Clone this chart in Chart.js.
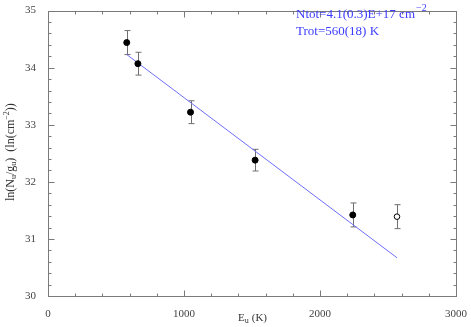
<!DOCTYPE html>
<html>
<head>
<meta charset="utf-8">
<script src="https://cdn.jsdelivr.net/npm/chart.js@4"></script>
<style>
  html, body { margin: 0; padding: 0; background: #fff; }
  #wrap { width: 471px; height: 327px; }
</style>
</head>
<body>
<div id="wrap"><canvas id="chart"></canvas></div>
<script>
// rotation diagram data
const energies = [579, 661, 1048, 1523, 2241];
const lnValues = [34.44, 34.07, 33.22, 32.38, 31.42];
const lnErrors = [0.21, 0.20, 0.20, 0.19, 0.21];

// excluded point (open symbol)
const openEnergy = [2566];
const openValue = [31.39];
const openError = [0.21];

// fitted line end points
const fitX = [579, 2566];
const fitY = [34.23, 30.67];

const xTicks = [0, 1000, 2000, 3000];
const yTicks = [30, 31, 32, 33, 34, 35];

const labelFont = "'Liberation Serif', 'DejaVu Serif', serif";
const axisGrey = '#7a7a7a';
const fitBlue = 'rgb(110,110,255)';
const textBlue = 'rgb(60,60,255)';

const pts = energies.map((x, i) => ({ x: x, y: lnValues[i], e: lnErrors[i] }));
const openPts = openEnergy.map((x, i) => ({ x: x, y: openValue[i], e: openError[i] }));
const fitPts = fitX.map((x, i) => ({ x: x, y: fitY[i] }));

// error bars, drawn under the points
const errorBars = {
  id: 'errorBars',
  beforeDatasetsDraw(chart) {
    const ctx = chart.ctx, xs = chart.scales.x, ys = chart.scales.y;
    ctx.save();
    ctx.strokeStyle = '#6f6f6f';
    ctx.lineWidth = 1;
    [0, 1].forEach(di => {
      chart.data.datasets[di].data.forEach(p => {
        const px = Math.round(xs.getPixelForValue(p.x)) + 0.5;
        const top = ys.getPixelForValue(p.y + p.e);
        const bot = ys.getPixelForValue(p.y - p.e);
        ctx.beginPath();
        ctx.moveTo(px, top); ctx.lineTo(px, bot);
        ctx.moveTo(px - 3, top); ctx.lineTo(px + 3, top);
        ctx.moveTo(px - 3, bot); ctx.lineTo(px + 3, bot);
        ctx.stroke();
      });
    });
    ctx.restore();
  }
};

// frame with inward ticks on all four sides, titles and fit label
const frame = {
  id: 'frame',
  afterDraw(chart) {
    const ctx = chart.ctx, xs = chart.scales.x, ys = chart.scales.y;
    const a = chart.chartArea;
    const L = Math.round(a.left) + 0.5, R = Math.round(a.right) + 0.5;
    const T = Math.round(a.top) + 0.5, B = Math.round(a.bottom) + 0.5;
    ctx.save();
    ctx.strokeStyle = axisGrey;
    ctx.lineWidth = 1;
    ctx.strokeRect(L, T, R - L, B - T);
    ctx.beginPath();
    for (let v = 0; v <= 3000; v += 200) {
      const px = Math.round(xs.getPixelForValue(v)) + 0.5;
      const len = v % 1000 === 0 ? 6 : 3;
      ctx.moveTo(px, B); ctx.lineTo(px, B - len);
      ctx.moveTo(px, T); ctx.lineTo(px, T + len);
    }
    for (let i = 0; i <= 25; i++) {
      const v = 30 + i * 0.2;
      const py = Math.round(ys.getPixelForValue(v)) + 0.5;
      const len = i % 5 === 0 ? 6 : 3;
      ctx.moveTo(L, py); ctx.lineTo(L + len, py);
      ctx.moveTo(R, py); ctx.lineTo(R - len, py);
    }
    ctx.stroke();

    // x title: E_u (K)
    ctx.fillStyle = '#333';
    ctx.textBaseline = 'alphabetic';
    ctx.font = '11px ' + labelFont;
    let x = 238, y = 321;
    ctx.fillText('E', x, y); x += ctx.measureText('E').width;
    ctx.font = '8px ' + labelFont;
    ctx.fillText('u', x, y + 2); x += ctx.measureText('u').width + 3;
    ctx.font = '11px ' + labelFont;
    ctx.fillText('(K)', x, y);

    // y title, rotated
    ctx.save();
    ctx.translate(14, 201);
    ctx.rotate(-Math.PI / 2);
    const parts = [
      ['ln(N', 12, 0], ['u', 8, 2], ['/g', 12, 0], ['u', 8, 2],
      [')  (ln(cm', 12, 0], ['\u22122', 8, -5], ['))', 12, 0]
    ];
    let ox = 0;
    parts.forEach(p => {
      ctx.font = p[1] + 'px ' + labelFont;
      ctx.fillText(p[0], ox, p[2]);
      ox += ctx.measureText(p[0]).width;
    });
    ctx.restore();

    // fit results
    ctx.fillStyle = textBlue;
    ctx.font = '13px ' + labelFont;
    let tx = 296, ty = 18;
    const s1 = 'Ntot=4.1(0.3)E+17 cm';
    ctx.fillText(s1, tx, ty);
    tx += ctx.measureText(s1).width + 1;
    ctx.font = '10px ' + labelFont;
    ctx.fillText('\u22122', tx, ty - 7);
    ctx.font = '13px ' + labelFont;
    ctx.fillText('Trot=560(18) K', 296, 35);
    ctx.restore();
  }
};

const canvas = document.getElementById('chart');
const myChart = new Chart(canvas, {
  type: 'scatter',
  data: {
    datasets: [{
      label: 'fitted',
      data: pts,
      pointRadius: 3,
      pointBackgroundColor: '#000',
      pointBorderColor: '#000',
      pointBorderWidth: 1,
      showLine: false
    }, {
      label: 'excluded',
      data: openPts,
      pointRadius: 2.8,
      pointBackgroundColor: '#fff',
      pointBorderColor: '#000',
      pointBorderWidth: 1,
      showLine: false
    }, {
      label: 'fit',
      data: fitPts,
      showLine: true,
      borderColor: fitBlue,
      borderWidth: 1,
      pointRadius: 0,
      fill: false
    }]
  },
  options: {
    responsive: true,
    maintainAspectRatio: false,
    animation: false,
    layout: { padding: { top: 4, right: 11, left: 0, bottom: 0 } },
    plugins: { legend: { display: false }, tooltip: { enabled: false } },
    scales: {
      x: {
        type: 'linear', min: 0, max: 3000,
        afterBuildTicks: s => { s.ticks = xTicks.map(v => ({ value: v })); },
        grid: { display: false },
        border: { display: false },
        ticks: { color: '#444', padding: 4, font: { family: labelFont, size: 11 }, maxRotation: 0,
                 callback: v => String(v) },
        afterFit: s => { s.height = 31; }
      },
      y: {
        type: 'linear', min: 30, max: 35,
        afterBuildTicks: s => { s.ticks = yTicks.map(v => ({ value: v })); },
        grid: { display: false },
        border: { display: false },
        ticks: { color: '#444', padding: 4, font: { family: labelFont, size: 11 },
                 callback: v => String(v) },
        afterFit: s => { s.width = 48; }
      }
    }
  },
  plugins: [errorBars, frame]
});
</script>
</body>
</html>
